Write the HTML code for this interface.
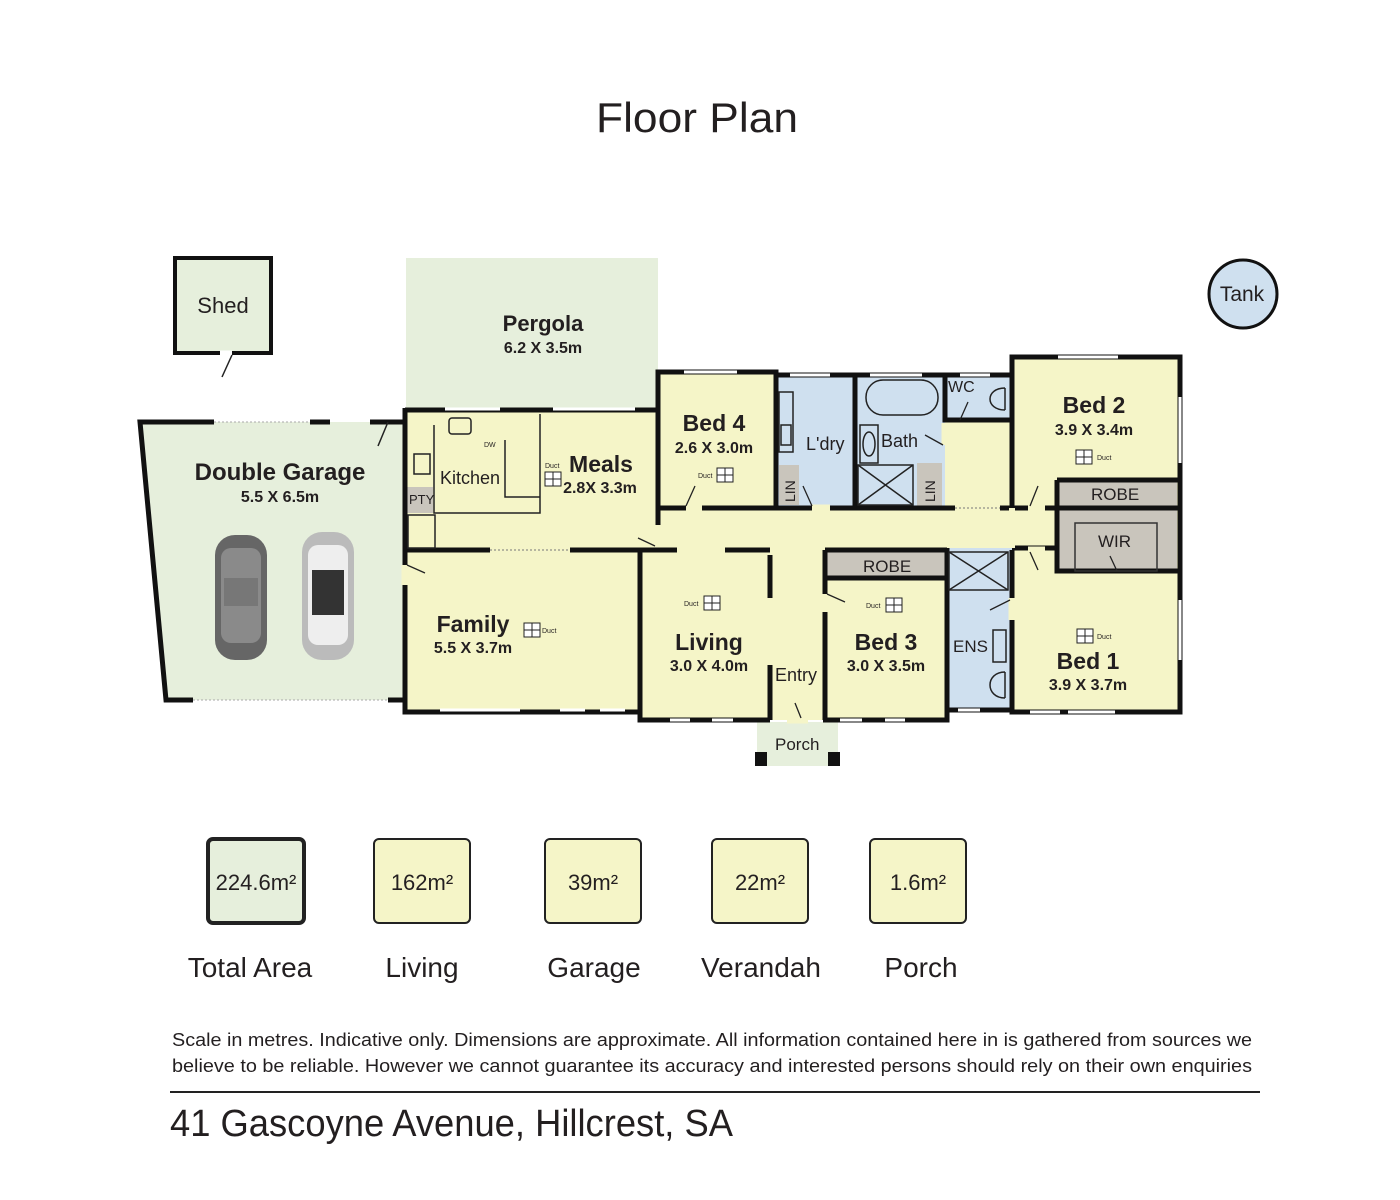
<!DOCTYPE html>
<html><head><meta charset="utf-8"><style>
html,body{margin:0;padding:0;background:#fff;}
svg{display:block;}
text{font-family:"Liberation Sans Narrow","Liberation Sans",sans-serif;fill:#231f20;}
.b{font-weight:bold;}
.s{font-family:"Liberation Sans",sans-serif;}
</style></head><body>
<svg width="1400" height="1200" viewBox="0 0 1400 1200" xmlns="http://www.w3.org/2000/svg">
<text x="697" y="132" text-anchor="middle" font-size="42" textLength="202" lengthAdjust="spacingAndGlyphs">Floor Plan</text>

<!-- Shed -->
<rect x="175" y="258" width="96" height="95" fill="#e6efdc" stroke="#111" stroke-width="4"/>
<text x="223" y="313" text-anchor="middle" font-size="22">Shed</text>
<line x1="220" y1="353" x2="232" y2="353" stroke="#fff" stroke-width="5"/>
<path d="M232 355 L222 377" stroke="#222" stroke-width="1.5" fill="none"/>

<!-- Pergola -->
<rect x="406" y="258" width="252" height="150" fill="#e6efdc"/>
<text x="543" y="331" text-anchor="middle" font-size="22" class="b">Pergola</text>
<text x="543" y="353" text-anchor="middle" font-size="16" class="b">6.2 X 3.5m</text>

<!-- Tank -->
<circle cx="1243" cy="294" r="34" fill="#cfe0ef" stroke="#111" stroke-width="3"/>
<text x="1242" y="301" text-anchor="middle" font-size="21">Tank</text>

<!-- Garage -->
<polygon points="140,422 405,422 405,700 166,700" fill="#e6efdc"/>
<path d="M214,422 H140 L166,700 H193 M388,700 H405 V422 H370 M330,422 H310" stroke="#111" stroke-width="5" fill="none"/>
<line x1="214" y1="422" x2="310" y2="422" stroke="#aaa" stroke-width="1" stroke-dasharray="2,2"/>
<line x1="193" y1="700" x2="388" y2="700" stroke="#aaa" stroke-width="1" stroke-dasharray="2,2"/>
<path d="M388 422 L378 446" stroke="#222" stroke-width="1.5"/>
<text x="280" y="480" text-anchor="middle" font-size="24" class="b">Double Garage</text>
<text x="280" y="502" text-anchor="middle" font-size="16" class="b">5.5 X 6.5m</text>
<!-- cars -->
<g>
<rect x="215" y="535" width="52" height="125" rx="20" fill="#666"/>
<rect x="221" y="548" width="40" height="95" rx="10" fill="#8a8a8a"/>
<rect x="224" y="578" width="34" height="28" fill="#777"/>
<rect x="302" y="532" width="52" height="128" rx="20" fill="#bbb"/>
<rect x="308" y="545" width="40" height="100" rx="10" fill="#eee"/>
<rect x="312" y="570" width="32" height="45" fill="#333"/>
</g>

<!-- main house fills -->
<rect x="405" y="408" width="253" height="142" fill="#f5f5c8"/>
<rect x="405" y="550" width="235" height="162" fill="#f5f5c8"/>
<rect x="640" y="550" width="130" height="170" fill="#f5f5c8"/>
<rect x="658" y="372" width="118" height="136" fill="#f5f5c8"/>
<rect x="658" y="508" width="400" height="42" fill="#f5f5c8"/>
<rect x="770" y="548" width="55" height="172" fill="#f5f5c8"/>
<rect x="776" y="375" width="79" height="133" fill="#cfe0ef"/>
<rect x="855" y="375" width="90" height="133" fill="#cfe0ef"/>
<rect x="945" y="375" width="67" height="45" fill="#cfe0ef"/>
<rect x="945" y="420" width="67" height="88" fill="#f5f5c8"/>
<rect x="1012" y="357" width="168" height="355" fill="#f5f5c8"/>
<rect x="825" y="550" width="122" height="170" fill="#f5f5c8"/>
<rect x="947" y="548" width="65" height="162" fill="#cfe0ef"/>
<rect x="1057" y="480" width="120" height="28" fill="#c9c5bc"/>
<rect x="1057" y="508" width="120" height="63" fill="#c9c5bc"/>
<rect x="825" y="552" width="120" height="26" fill="#c9c5bc"/>
<rect x="407" y="487" width="26" height="26" fill="#c9c5bc"/>
<rect x="779" y="465" width="20" height="40" fill="#c9c5bc"/>
<rect x="917" y="463" width="25" height="43" fill="#c9c5bc"/>
<rect x="757" y="722" width="81" height="44" fill="#e6efdc"/>

<!-- walls -->
<g stroke="#111" stroke-width="5" fill="none">
<path d="M405,408 V712 H640 V720 H770 M823,720 H947 V710 H1012 V712 H1180 V357 H1012 V375 H945 M658,408 V372 H776 V375 H945"/>
<path d="M405,410 H658"/>
<path d="M405,550 H658 M640,550 V720 M658,408 V545 M770,555 V720 M658,550 H770 M825,550 V720 M825,550 H947 M947,548 V710 M1012,357 V508 M1012,550 V712 M1012,548 H1057 M1057,480 V571 H1180 M1057,480 H1180 M1057,508 H1180"/>
<path d="M658,508 H1055 M776,375 V508 M855,375 V508 M945,375 V420 H1012"/>
<path d="M825,578 H945"/>
</g>
<!-- windows (white gaps) -->
<g stroke="#fff" stroke-width="3">
<line x1="440" y1="710" x2="520" y2="710"/><line x1="560" y1="710" x2="585" y2="710"/><line x1="600" y1="710" x2="625" y2="710"/>
<line x1="670" y1="720" x2="690" y2="720"/><line x1="712" y1="720" x2="733" y2="720"/>
<line x1="840" y1="720" x2="862" y2="720"/><line x1="885" y1="720" x2="905" y2="720"/>
<line x1="958" y1="710" x2="980" y2="710"/><line x1="1030" y1="712" x2="1060" y2="712"/><line x1="1068" y1="712" x2="1115" y2="712"/>
<line x1="1180" y1="397" x2="1180" y2="463"/><line x1="1180" y1="600" x2="1180" y2="660"/>
<line x1="1058" y1="357" x2="1118" y2="357"/><line x1="684" y1="372" x2="737" y2="372"/>
<line x1="870" y1="375" x2="922" y2="375"/><line x1="960" y1="375" x2="990" y2="375"/>
<line x1="445" y1="409" x2="500" y2="409"/><line x1="553" y1="409" x2="635" y2="409"/>
<line x1="790" y1="375" x2="830" y2="375"/>
</g>
<line x1="490" y1="550" x2="570" y2="550" stroke="#f5f5c8" stroke-width="6"/>
<line x1="490" y1="550" x2="570" y2="550" stroke="#777" stroke-width="1" stroke-dasharray="2,2"/>
<line x1="677" y1="550" x2="725" y2="550" stroke="#f5f5c8" stroke-width="6"/>
<line x1="955" y1="508" x2="1000" y2="508" stroke="#f5f5c8" stroke-width="6"/>
<line x1="955" y1="508" x2="1000" y2="508" stroke="#777" stroke-width="1" stroke-dasharray="2,2"/>
<line x1="770" y1="598" x2="770" y2="665" stroke="#f5f5c8" stroke-width="6"/>
<line x1="1012" y1="508" x2="1012" y2="548" stroke="#f5f5c8" stroke-width="6"/>
<line x1="658" y1="525" x2="658" y2="545" stroke="#f5f5c8" stroke-width="6"/>
<!-- door gaps -->
<g stroke="#f5f5c8" stroke-width="7">
<line x1="686" y1="508" x2="702" y2="508"/><line x1="812" y1="508" x2="830" y2="508"/>
<line x1="1028" y1="508" x2="1045" y2="508"/><line x1="1028" y1="550" x2="1045" y2="550"/>
<line x1="825" y1="594" x2="825" y2="612"/><line x1="405" y1="565" x2="405" y2="585"/>
<line x1="787" y1="720" x2="808" y2="720"/><line x1="945" y1="423" x2="945" y2="445"/>
<line x1="1012" y1="598" x2="1012" y2="620"/>
</g>
<!-- door swings -->
<g stroke="#222" stroke-width="1.3" fill="none">
<path d="M686 506 L695 486"/><path d="M812 506 L803 486"/><path d="M1030 506 L1038 486"/>
<path d="M1030 552 L1038 570"/><path d="M827 594 L845 602"/><path d="M407 565 L425 573"/>
<path d="M801 718 L795 703"/><path d="M943 445 L925 435"/><path d="M1010 600 L990 610"/>
<path d="M655 546 L638 538"/><path d="M1117 571 L1110 556"/><path d="M960 420 L968 402"/>
</g>
<!-- fixtures -->
<g stroke="#222" stroke-width="1.5" fill="none">
<rect x="449" y="418" width="22" height="16" rx="3"/>
<path d="M434,425 V513 H540 V414"/>
<path d="M505,440 V497 H540" />
<rect x="414" y="454" width="16" height="20"/>
<rect x="408" y="515" width="27" height="33"/>
<rect x="866" y="380" width="72" height="35" rx="17"/>
<rect x="860" y="425" width="18" height="38"/><ellipse cx="869" cy="444" rx="6" ry="12"/>
<rect x="858" y="465" width="55" height="40"/><path d="M858,465 L913,505 M913,465 L858,505"/>
<rect x="949" y="552" width="59" height="38"/><path d="M949,552 L1008,590 M1008,552 L949,590"/>
<rect x="779" y="392" width="14" height="60"/><rect x="781" y="425" width="10" height="20"/>
<path d="M1005,388 V410 M1005,388 C985,388 985,410 1005,410"/>
<path d="M1005,672 V698 M1005,672 C985,672 985,698 1005,698"/>
<rect x="993" y="630" width="13" height="32"/>
<rect x="1075" y="523" width="82" height="48" stroke="#333"/>
</g>
<g fill="#111"><rect x="755" y="752" width="12" height="14"/><rect x="828" y="752" width="12" height="14"/></g>
<!-- ducts -->
<g stroke="#222" stroke-width="1" fill="#fff">
<rect x="545" y="472" width="16" height="14"/><rect x="524" y="623" width="16" height="14"/>
<rect x="717" y="468" width="16" height="14"/><rect x="704" y="596" width="16" height="14"/>
<rect x="886" y="598" width="16" height="14"/><rect x="1076" y="450" width="16" height="14"/>
<rect x="1077" y="629" width="16" height="14"/>
</g>
<g stroke="#222" stroke-width="1">
<path d="M553,472 V486 M545,479 H561 M532,623 V637 M524,630 H540 M725,468 V482 M717,475 H733 M712,596 V610 M704,603 H720 M894,598 V612 M886,605 H902 M1084,450 V464 M1076,457 H1092 M1085,629 V643 M1077,636 H1093"/>
</g>
<g font-size="7" class="s">
<text x="545" y="468">Duct</text><text x="542" y="633">Duct</text><text x="698" y="478">Duct</text>
<text x="684" y="606">Duct</text><text x="866" y="608">Duct</text><text x="1097" y="460">Duct</text><text x="1097" y="639">Duct</text>
<text x="484" y="447">DW</text>
</g>

<!-- labels -->
<g class="b" text-anchor="middle">
<text x="601" y="472" font-size="23">Meals</text><text x="600" y="493" font-size="16">2.8X 3.3m</text>
<text x="473" y="632" font-size="23">Family</text><text x="473" y="653" font-size="16">5.5 X 3.7m</text>
<text x="709" y="650" font-size="23">Living</text><text x="709" y="671" font-size="16">3.0 X 4.0m</text>
<text x="714" y="431" font-size="23">Bed 4</text><text x="714" y="453" font-size="16">2.6 X 3.0m</text>
<text x="1094" y="413" font-size="23">Bed 2</text><text x="1094" y="435" font-size="16">3.9 X 3.4m</text>
<text x="886" y="650" font-size="23">Bed 3</text><text x="886" y="671" font-size="16">3.0 X 3.5m</text>
<text x="1088" y="669" font-size="23">Bed 1</text><text x="1088" y="690" font-size="16">3.9 X 3.7m</text>
</g>
<g font-size="18">
<text x="440" y="484">Kitchen</text>
<text x="806" y="450">L'dry</text>
<text x="881" y="447">Bath</text>
<text x="948" y="392" font-size="16">WC</text>
<text x="775" y="681">Entry</text>
<text x="953" y="652" font-size="17">ENS</text>
<text x="775" y="750" font-size="17">Porch</text>
<text x="1091" y="500" font-size="17">ROBE</text>
<text x="863" y="572" font-size="17">ROBE</text>
<text x="1098" y="547" font-size="17">WIR</text>
<text x="409" y="504" font-size="13">PTY</text>
<text transform="translate(795,502) rotate(-90)" font-size="14">LIN</text>
<text transform="translate(935,502) rotate(-90)" font-size="14">LIN</text>
</g>

<!-- summary boxes -->
<rect x="208" y="839" width="96" height="84" rx="5" fill="#e6efdc" stroke="#222" stroke-width="4"/>
<g fill="#f5f5c8" stroke="#222" stroke-width="2">
<rect x="374" y="839" width="96" height="84" rx="5"/>
<rect x="545" y="839" width="96" height="84" rx="5"/>
<rect x="712" y="839" width="96" height="84" rx="5"/>
<rect x="870" y="839" width="96" height="84" rx="5"/>
</g>
<g font-size="22" text-anchor="middle">
<text x="256" y="890">224.6m²</text><text x="422" y="890">162m²</text><text x="593" y="890">39m²</text>
<text x="760" y="890">22m²</text><text x="918" y="890">1.6m²</text>
</g>
<g font-size="28" text-anchor="middle">
<text x="250" y="977">Total Area</text><text x="422" y="977">Living</text><text x="594" y="977">Garage</text>
<text x="761" y="977">Verandah</text><text x="921" y="977">Porch</text>
</g>
<g class="s" font-size="18">
<text x="172" y="1046" textLength="1080" lengthAdjust="spacingAndGlyphs">Scale in metres. Indicative only. Dimensions are approximate. All information contained here in is gathered from sources we</text>
<text x="172" y="1072" textLength="1080" lengthAdjust="spacingAndGlyphs">believe to be reliable. However we cannot guarantee its accuracy and interested persons should rely on their own enquiries</text>
</g>
<line x1="170" y1="1092" x2="1260" y2="1092" stroke="#222" stroke-width="2"/>
<text x="170" y="1136" font-size="38" textLength="563" lengthAdjust="spacingAndGlyphs">41 Gascoyne Avenue, Hillcrest, SA</text>
</svg>
</body></html>
